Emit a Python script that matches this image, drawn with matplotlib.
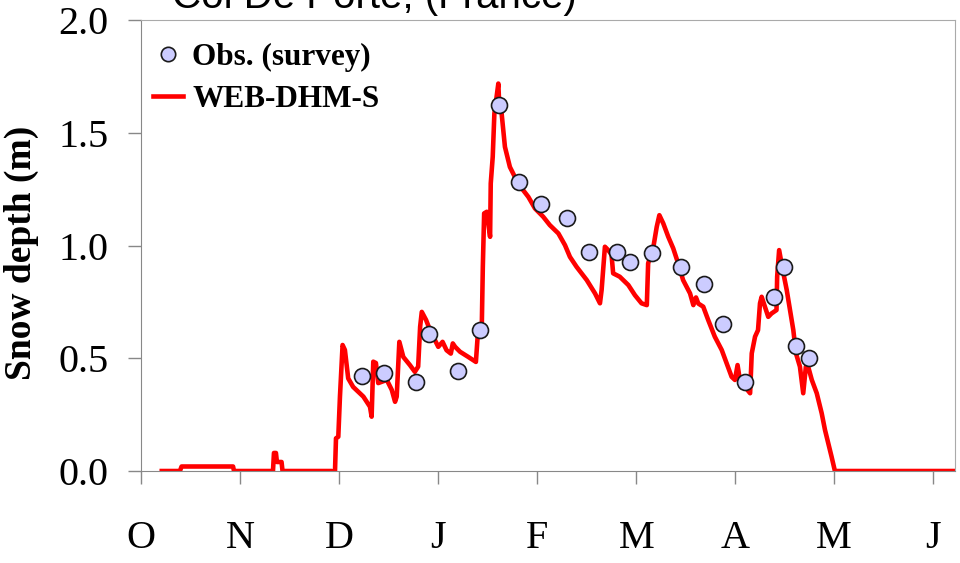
import matplotlib
matplotlib.use("Agg")
import matplotlib.pyplot as plt

# days since 1 October (axis ticks every 30 days)
month_labels = ["O", "N", "D", "J", "F", "M", "A", "M", "J"]
month_days = [0, 30, 60, 90, 120, 150, 180, 210, 240]

# observed snow depth (survey)
obs_day = [67.0, 73.6, 83.2, 87.3, 95.9, 102.7, 108.4, 114.4, 121.1, 128.9, 135.7,
           144.2, 148.2, 154.8, 163.6, 170.4, 176.3, 183.0, 191.6, 194.8, 198.3, 202.4]
obs_depth = [0.421, 0.435, 0.395, 0.606, 0.443, 0.625, 1.626, 1.282, 1.184, 1.123, 0.970,
             0.970, 0.926, 0.965, 0.903, 0.831, 0.652, 0.395, 0.773, 0.903, 0.553, 0.501]

# simulated snow depth WEB-DHM-S
sim_day = [6.2, 11.7, 12.2, 27.8, 28.1, 39.9, 40.2, 40.8, 41.1, 42.5, 42.8, 57.7, 58.2, 58.7,
           59.0, 59.7, 60.2, 61.0, 61.7, 62.7, 64.2, 67.3, 69.3, 69.8, 70.3, 71.1, 71.8,
           74.4, 75.9, 76.9, 77.4, 78.2, 79.4, 81.4, 82.9, 83.9, 84.5, 85.0, 86.3, 87.5,
           89.0, 90.0, 91.3, 92.5, 93.8, 94.4, 95.1, 96.6, 99.1, 101.4, 101.9, 103.2,
           103.5, 103.9, 104.7, 105.7, 105.9, 106.5, 107.0, 108.2, 108.5, 109.2, 110.2,
           111.7, 113.2, 115.3, 117.3, 119.3, 121.8, 123.8, 126.4, 128.4, 129.9, 131.9,
           135.0, 137.5, 139.0, 139.5, 140.5, 141.5, 142.5, 143.0, 145.0, 147.6, 149.6,
           151.6, 153.2, 153.6, 155.2, 156.2, 157.0, 158.2, 159.7, 161.2, 162.7, 164.2,
           166.3, 167.3, 168.1, 168.8, 170.3, 171.8, 173.8, 175.9, 177.4, 178.9, 179.9,
           180.7, 181.4, 182.9, 184.5, 185.0, 186.0, 186.9, 187.5, 188.0, 189.0, 190.0,
           191.0, 192.5, 192.7, 193.3, 194.4, 195.6, 196.6, 197.6, 198.4, 199.6, 200.6,
           201.4, 202.1, 203.2, 204.7, 206.2, 207.2, 208.2, 209.2, 210.2, 246.6]
sim_depth = [0.0, 0.0, 0.02, 0.02, 0.0, 0.0, 0.08, 0.08, 0.04, 0.04, 0.0, 0.0, -0.03, 0.0,
             0.145, 0.152, 0.33, 0.559, 0.537, 0.411, 0.373, 0.33, 0.285, 0.241, 0.485, 0.479, 0.39,
             0.404, 0.36, 0.307, 0.33, 0.573, 0.506, 0.47, 0.44, 0.463, 0.64, 0.706, 0.67, 0.625,
             0.581, 0.551, 0.573, 0.536, 0.521, 0.566, 0.551, 0.529, 0.506, 0.484, 0.59, 0.655,
             0.906, 1.143, 1.15, 1.039, 1.276, 1.394, 1.586, 1.719, 1.615, 1.586, 1.438,
             1.349, 1.305, 1.254, 1.216, 1.165, 1.128, 1.091, 1.054, 1.002, 0.95, 0.906,
             0.847, 0.788, 0.744, 0.803, 0.995, 0.98, 0.96, 0.877, 0.862, 0.825, 0.78,
             0.744, 0.736, 0.921, 0.995, 1.083, 1.135, 1.098, 1.039, 0.988, 0.921, 0.847,
             0.788, 0.736, 0.77, 0.743, 0.729, 0.67, 0.596, 0.537, 0.478, 0.418, 0.404,
             0.47, 0.404, 0.374, 0.345, 0.522, 0.596, 0.625, 0.744, 0.773, 0.729, 0.684,
             0.699, 0.714, 0.862, 0.98, 0.891, 0.803, 0.714, 0.625, 0.522, 0.463, 0.345,
             0.463, 0.463, 0.404, 0.345, 0.256, 0.182, 0.123, 0.063, 0.0, 0.0]

serif = "Liberation Serif"

fig = plt.figure(figsize=(9.6, 5.63), dpi=100)
ax = fig.add_axes([0.1472, 0.1634, 0.8476, 0.8007])

ax.plot(sim_day, sim_depth, color="#ff0000", lw=3.3, label="WEB-DHM-S", zorder=2)
ax.plot(obs_day, obs_depth, "o", ms=11.5, mfc="#ccccff", mec="#1a1a1a", mew=1.2,
        label="Obs. (survey)", zorder=3)

ax.set_xlim(0, 246.6)
ax.set_ylim(0, 2.0)
ax.set_xticks(month_days)
ax.set_xticklabels(month_labels)
ax.set_yticks([0.0, 0.5, 1.0, 1.5, 2.0])
ax.set_yticklabels(["0.0", "0.5", "1.0", "1.5", "2.0"])
for lab in ax.get_xticklabels() + ax.get_yticklabels():
    lab.set_family(serif)
    lab.set_fontsize(29)
ax.tick_params(axis="x", direction="out", length=9.5, width=1, color="#888888", pad=26)
ax.tick_params(axis="y", direction="out", length=9.5, width=1, color="#888888", pad=14)

for s in ["left", "bottom"]:
    ax.spines[s].set_color("#888888")
for s in ["top", "right"]:
    ax.spines[s].set_color("#aaaaaa")

fig.text(21 / 960, 1 - 253 / 563, "Snow depth (m)", rotation=90, ha="center", va="center",
         family=serif, fontweight="bold", fontsize=27)
fig.text(0.39, 0.986, "Col De Porte, (France)", ha="center", va="baseline",
         family="Liberation Sans", fontsize=29)

handles, labels = ax.get_legend_handles_labels()
ax.legend(handles[::-1], labels[::-1], loc="upper left", bbox_to_anchor=(153 / 960, 1 - 43 / 563),
          bbox_transform=fig.transFigure, frameon=False, borderpad=0, borderaxespad=0,
          handlelength=0.95, handletextpad=0.3, labelspacing=0.42, markerscale=0.9,
          prop={"family": serif, "weight": "bold", "size": 22.5})

fig.savefig("out.png", dpi=100)
